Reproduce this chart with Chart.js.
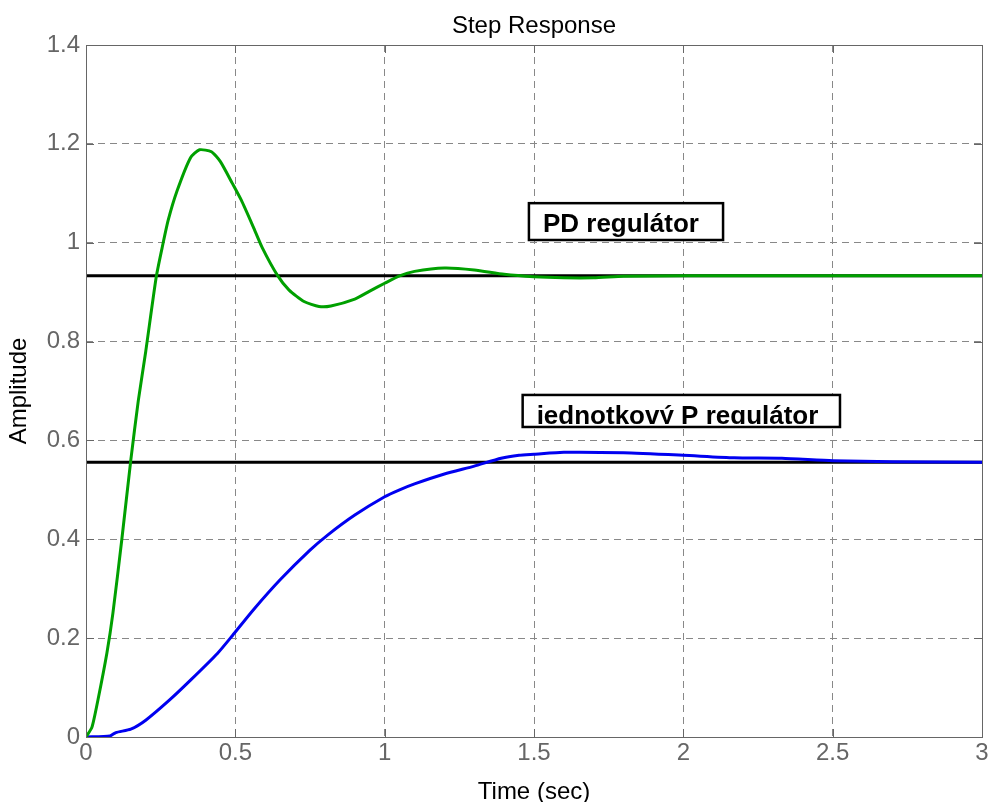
<!DOCTYPE html>
<html>
<head>
<meta charset="utf-8">
<script src="https://cdn.jsdelivr.net/npm/chart.js@4"></script>
<style>
  html, body { margin: 0; padding: 0; background: #fff; }
  #wrap { width: 991px; height: 802px; position: relative; }
</style>
</head>
<body>
<div id="wrap"><canvas id="stepChart"></canvas></div>
<script>
// Time (sec) and amplitude
const tPD = [0, 0.02, 0.04, 0.07, 0.09, 0.12, 0.15, 0.175, 0.2, 0.235, 0.255, 0.275, 0.305, 0.35, 0.38, 0.42, 0.45, 0.49, 0.52, 0.56, 0.59, 0.64, 0.68, 0.73, 0.78, 0.82, 0.9, 0.95, 1.0, 1.05, 1.1, 1.2, 1.3, 1.4, 1.5, 1.6, 1.7, 1.8, 2.0, 2.5, 3.0];
const yPD = [0, 0.02, 0.075, 0.17, 0.25, 0.40, 0.56, 0.68, 0.78, 0.93, 0.99, 1.045, 1.105, 1.172, 1.188, 1.184, 1.164, 1.12, 1.086, 1.032, 0.99, 0.935, 0.904, 0.881, 0.871, 0.872, 0.886, 0.902, 0.918, 0.933, 0.942, 0.949, 0.945, 0.936, 0.931, 0.929, 0.929, 0.932, 0.933, 0.933, 0.933];

const tP = [0, 0.08, 0.1, 0.15, 0.2, 0.28, 0.35, 0.44, 0.49, 0.56, 0.65, 0.75, 0.81, 0.9, 1.0, 1.05, 1.1, 1.2, 1.3, 1.39, 1.45, 1.5, 1.6, 1.8, 2.0, 2.17, 2.33, 2.5, 2.7, 3.0];
const yP = [0, 0.002, 0.009, 0.016, 0.034, 0.075, 0.115, 0.169, 0.205, 0.257, 0.318, 0.378, 0.409, 0.449, 0.486, 0.500, 0.512, 0.532, 0.548, 0.564, 0.570, 0.572, 0.576, 0.575, 0.570, 0.565, 0.564, 0.559, 0.557, 0.556];

// steady-state reference lines
const finalPD = 0.933;
const finalP = 0.556;
const tRange = [0, 3];

const xTicks = [0, 0.5, 1, 1.5, 2, 2.5, 3];
const yTicks = [0, 0.2, 0.4, 0.6, 0.8, 1, 1.2, 1.4];

// text boxes: [label, tLeft, tRight, aTop, aBottom]
const labels = [
  ["PD regulátor", 1.483, 2.133, 1.080, 1.0055],
  ["jednotkový P regulátor", 1.462, 2.5245, 0.692, 0.6272],
];

const FONT = "'Liberation Sans', Arial, sans-serif";
const toPts = (xs, ys) => xs.map((x, i) => ({ x: x, y: ys[i] }));

// title, box around plot, inward ticks, text boxes
const boxPlugin = {
  id: "boxPlugin",
  afterDraw(chart) {
    const ctx = chart.ctx;
    const a = chart.chartArea;
    const xs = chart.scales.x, ys = chart.scales.y;
    ctx.save();
    ctx.fillStyle = "#000";
    ctx.font = "24px " + FONT;
    ctx.textAlign = "center";
    ctx.textBaseline = "alphabetic";
    ctx.fillText("Step Response", (a.left + a.right) / 2, 33);
    ctx.textAlign = "left";

    ctx.strokeStyle = "#666";
    ctx.lineWidth = 1;
    ctx.strokeRect(a.left + 0.5, a.top + 0.5, a.right - a.left, a.bottom - a.top);
    xTicks.forEach((v) => {
      const px = Math.round(xs.getPixelForValue(v)) + 0.5;
      ctx.beginPath();
      ctx.moveTo(px, a.bottom); ctx.lineTo(px, a.bottom - 8);
      ctx.moveTo(px, a.top); ctx.lineTo(px, a.top + 8);
      ctx.stroke();
    });
    yTicks.forEach((v) => {
      const py = Math.round(ys.getPixelForValue(v)) + 0.5;
      ctx.beginPath();
      ctx.moveTo(a.left, py); ctx.lineTo(a.left + 8, py);
      ctx.moveTo(a.right, py); ctx.lineTo(a.right - 8, py);
      ctx.stroke();
    });
    labels.forEach((l) => {
      const x0 = xs.getPixelForValue(l[1]);
      const x1 = xs.getPixelForValue(l[2]);
      const y0 = ys.getPixelForValue(l[3]);
      const y1 = ys.getPixelForValue(l[4]);
      ctx.fillStyle = "#fff";
      ctx.fillRect(x0, y0, x1 - x0, y1 - y0);
      ctx.save();
      ctx.beginPath();
      ctx.rect(x0, y0, x1 - x0, y1 - y0 - 3);
      ctx.clip();
      ctx.fillStyle = "#000";
      ctx.font = "bold 26px " + FONT;
      const base = Math.min(y0 + 29, y1 + 0);
      ctx.fillText(l[0], x0 + 14, base);
      ctx.restore();
      ctx.strokeStyle = "#000";
      ctx.lineWidth = 2.5;
      ctx.strokeRect(x0, y0, x1 - x0, y1 - y0);
    });
    ctx.restore();
  },
};

const ctx = document.getElementById("stepChart").getContext("2d");
new Chart(ctx, {
  type: "line",
  data: {
    datasets: [
      {
        data: toPts(tPD, yPD),
        borderColor: "#00a000",
        borderWidth: 3,
        pointRadius: 0,
        tension: 0.2,
        order: 0,
      },
      {
        data: toPts(tP, yP),
        borderColor: "#0000f0",
        borderWidth: 3,
        pointRadius: 0,
        tension: 0.2,
        order: 0,
      },
      {
        data: toPts(tRange, [finalPD, finalPD]),
        borderColor: "#000",
        borderWidth: 3,
        pointRadius: 0,
        order: 1,
      },
      {
        data: toPts(tRange, [finalP, finalP]),
        borderColor: "#000",
        borderWidth: 3,
        pointRadius: 0,
        order: 1,
      },
    ],
  },
  options: {
    responsive: true,
    maintainAspectRatio: false,
    animation: false,
    layout: { padding: { left: 0, right: 9, top: 45, bottom: 0 } },
    plugins: {
      legend: { display: false },
      tooltip: { enabled: false },
      title: { display: false },
    },
    scales: {
      x: {
        type: "linear",
        min: 0,
        max: 3,
        afterFit: (s) => { s.height = 65; },
        afterBuildTicks: (s) => { s.ticks = xTicks.map((v) => ({ value: v })); },
        ticks: {
          color: "#666",
          padding: 2,
          maxRotation: 0,
          font: { family: FONT, size: 24 },
          callback: (v) => String(v),
        },
        grid: { color: "#888", drawTicks: false },
        border: { display: false, dash: [7, 5] },
        title: {
          display: true,
          text: "Time (sec)",
          color: "#000",
          font: { family: FONT, size: 24 },
          padding: { top: 0, bottom: -5 },
        },
      },
      y: {
        min: 0,
        max: 1.4,
        afterFit: (s) => { s.width = 86; },
        afterBuildTicks: (s) => { s.ticks = yTicks.map((v) => ({ value: v })); },
        ticks: {
          color: "#666",
          padding: 6,
          font: { family: FONT, size: 24 },
          callback: (v) => String(Math.round(v * 10) / 10),
        },
        grid: { color: "#888", drawTicks: false },
        border: { display: false, dash: [7, 5] },
        title: {
          display: true,
          text: "Amplitude",
          color: "#000",
          font: { family: FONT, size: 24 },
          padding: { top: 5, bottom: 0 },
        },
      },
    },
  },
  plugins: [boxPlugin],
});
</script>
</body>
</html>
